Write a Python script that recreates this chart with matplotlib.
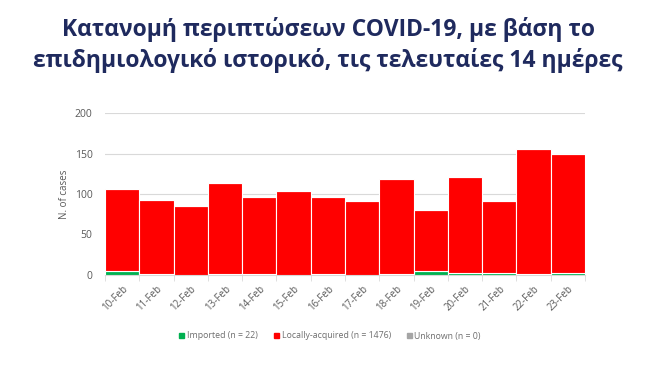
import numpy as np
import matplotlib
matplotlib.use('Agg')
import matplotlib.pyplot as plt
from matplotlib.patches import Patch

dates = ['10-Feb', '11-Feb', '12-Feb', '13-Feb', '14-Feb', '15-Feb', '16-Feb',
         '17-Feb', '18-Feb', '19-Feb', '20-Feb', '21-Feb', '22-Feb', '23-Feb']
imported = [5, 1, 0, 1, 1, 0, 1, 0, 1, 5, 2, 2, 1, 2]
local = [101, 91, 85, 112, 95, 104, 95, 91, 118, 75, 119, 89, 154, 147]
unknown = [0, 0, 0, 0, 0, 0, 0, 0, 0, 0, 0, 0, 0, 0]
yticks = [0, 50, 100, 150, 200]

title = ("Κατανομή περιπτώσεων COVID-19, με βάση το\n"
         "επιδημιολογικό ιστορικό, τις τελευταίες 14 ημέρες")

c_imp = '#00B050'
c_loc = '#FF0000'
c_unk = '#A5A5A5'
grey_txt = '#595959'

plt.rcParams['font.family'] = ['Open Sans', 'DejaVu Sans']

fig = plt.figure(figsize=(6.56, 3.82), dpi=100)
ax = fig.add_axes([105/656, 1 - 275/382, 480/656, 162/382])

x = np.arange(len(dates))
imp = np.array(imported)
loc = np.array(local)
unk = np.array(unknown)
ax.bar(x, imp, width=1.0, color=c_imp, edgecolor='white', linewidth=0.8, zorder=3)
ax.bar(x, loc, bottom=imp, width=1.0, color=c_loc, edgecolor='white', linewidth=0.8, zorder=3)
ax.bar(x, unk, bottom=imp + loc, width=1.0, color=c_unk, edgecolor='white', linewidth=0.8, zorder=3)

ax.set_xlim(-0.5, len(dates) - 0.5)
ax.set_ylim(0, 200)
ax.set_yticks(yticks)
ax.yaxis.grid(True, color='#D9D9D9', linewidth=0.8, zorder=0)
ax.tick_params(axis='y', length=0, labelsize=7.5, labelcolor=grey_txt, pad=9)

# excel-style category ticks between the bars
ax.set_xticks(x)
ax.set_xticklabels(dates, rotation=45, ha='right', rotation_mode='anchor',
                   fontsize=7, color=grey_txt)
ax.set_xticks(np.arange(-0.5, len(dates)), minor=True)
ax.tick_params(axis='x', which='major', length=0, pad=6)
ax.tick_params(axis='x', which='minor', length=4, color='#D9D9D9')

for s in ['top', 'right', 'left']:
    ax.spines[s].set_visible(False)
ax.spines['bottom'].set_color('#D9D9D9')

ax.set_ylabel('N. of cases', fontsize=7, color=grey_txt, labelpad=3)

handles = [Patch(color=c_imp), Patch(color=c_loc), Patch(color=c_unk)]
labels = ['Imported (n = %d)' % sum(imported),
          'Locally-acquired (n = %d)' % sum(local),
          'Unknown (n = %d)' % sum(unknown)]
fig.legend(handles, labels, loc='center', bbox_to_anchor=(330/656, 1 - 336/382),
           ncol=3, frameon=False, fontsize=6.3, labelcolor='#6E6E6E',
           handlelength=0.6, handleheight=0.6, handletextpad=0.3, columnspacing=1.8)

fig.text(0.5, 1 - 45/382, title, ha='center', va='center', fontsize=16.5,
         fontweight='bold', color='#1F2A5E', linespacing=1.3)

fig.savefig('out.png', dpi=100)
